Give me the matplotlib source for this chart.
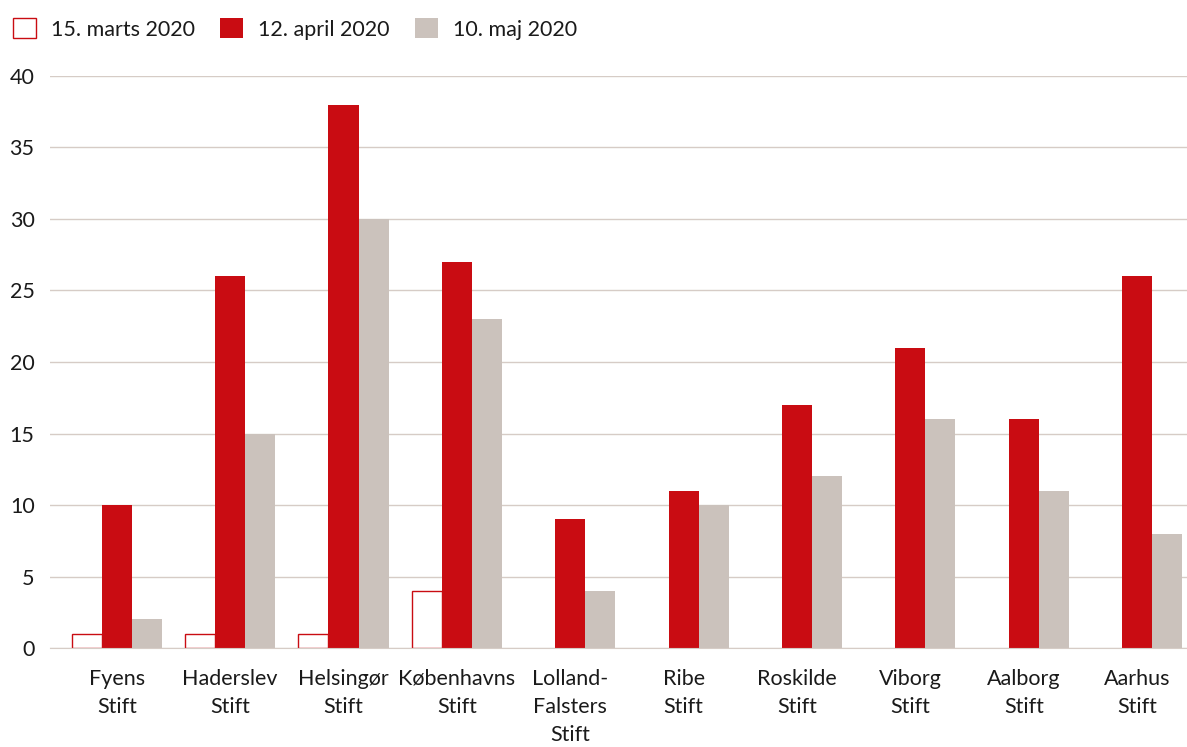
import matplotlib.pyplot as plt
import numpy as np

plt.rcParams['font.family'] = ['Lato', 'DejaVu Sans']

stifter = ['Fyens\nStift', 'Haderslev\nStift', 'Helsingør\nStift', 'Københavns\nStift',
           'Lolland-\nFalsters\nStift', 'Ribe\nStift', 'Roskilde\nStift', 'Viborg\nStift',
           'Aalborg\nStift', 'Aarhus\nStift']
marts = [1, 1, 1, 4, 0, 0, 0, 0, 0, 0]
april = [10, 26, 38, 27, 9, 11, 17, 21, 16, 26]
maj = [2, 15, 30, 23, 4, 10, 12, 16, 11, 8]
labels = ['15. marts 2020', '12. april 2020', '10. maj 2020']

red = '#C90C12'
grey = '#CBC2BC'
gridc = '#D6CCC6'
fs = 15.5

fig = plt.figure(figsize=(11.87, 7.47), dpi=100, facecolor='white')
ax = fig.add_axes([0.042, 0.1325, 0.958, 0.7658])

x = np.arange(len(stifter))
w = 0.265
lw = [1.0 if v > 0 else 0 for v in marts]
b1 = ax.bar(x - w, marts, w, color='white', edgecolor=red, linewidth=lw, label=labels[0], zorder=3)
b2 = ax.bar(x, april, w, color=red, label=labels[1], zorder=3)
b3 = ax.bar(x + w, maj, w, color=grey, label=labels[2], zorder=3)

ax.set_ylim(0, 40)
ax.set_xlim(-0.59, 9.44)
ax.set_yticks(range(0, 41, 5))
ax.yaxis.grid(True, color=gridc, linewidth=1, zorder=0)
ax.set_xticks(x)
ax.set_xticklabels(stifter, fontsize=fs, color='#1a1a1a', linespacing=1.5, va='top')
ax.tick_params(axis='x', length=0, pad=15)
ax.tick_params(axis='y', length=0, pad=11, labelsize=fs, labelcolor='#1a1a1a')
for s in ['top', 'right', 'left']:
    ax.spines[s].set_visible(False)
ax.spines['bottom'].set_color(gridc)
ax.spines['bottom'].set_zorder(4)

fig.legend(handles=[b1, b2, b3], labels=labels, loc='upper left', bbox_to_anchor=(0.0, 0.993),
           borderaxespad=0.2, ncol=3, frameon=False, fontsize=fs, handlelength=1.07,
           handleheight=1.07, handletextpad=0.7, columnspacing=1.16, labelcolor='#1a1a1a')

plt.savefig('out.png', dpi=100)
